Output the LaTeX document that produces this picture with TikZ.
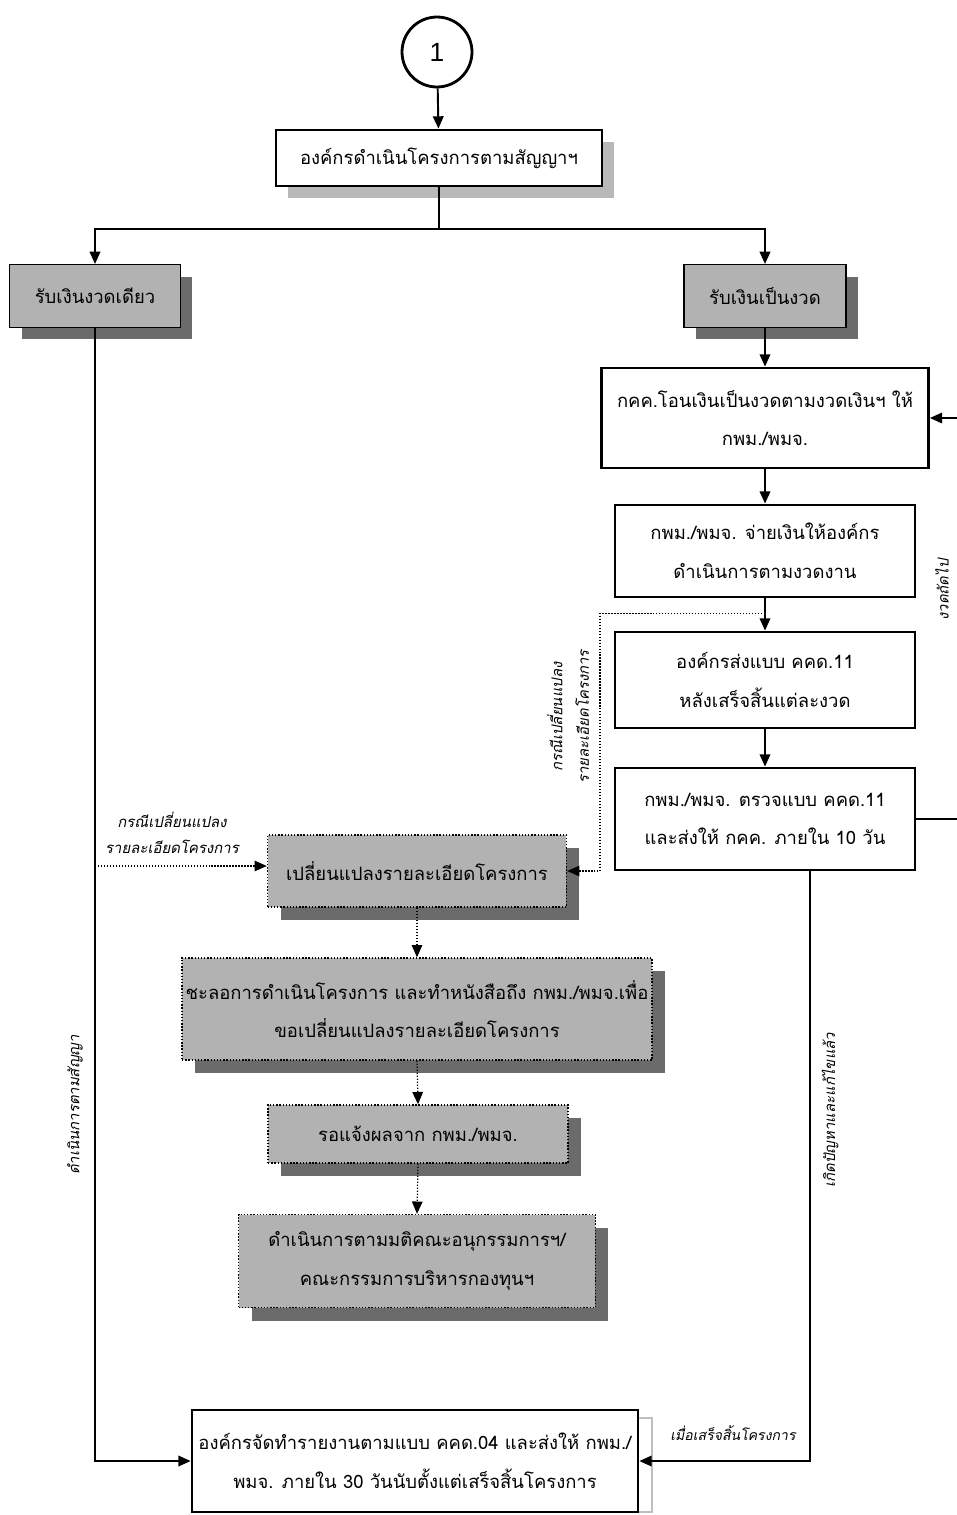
\documentclass[tikz,border=0pt]{standalone}
\usepackage{fontspec}
\setmainfont{Loma}[Script=Thai]
\newfontfamily\slantfont{Loma}[Script=Thai,FakeSlant=0.2]
\newfontfamily\numfont{Liberation Sans}
\usetikzlibrary{arrows.meta,positioning,shadows}

\tikzset{
  boxtext/.style={align=center,inner sep=2pt,font=\fontsize{10.5}{22}\selectfont},
  whitebox/.style={boxtext,draw,line width=1.6pt,fill=white},
  headbox/.style={whitebox,drop shadow={shadow xshift=0.24cm,shadow yshift=-0.24cm,fill=black!28,opacity=1}},
  graybox/.style={boxtext,draw,line width=0.6pt,fill=black!30,
    drop shadow={shadow xshift=0.24cm,shadow yshift=-0.24cm,fill=black!58,opacity=1}},
  dotbox/.style={boxtext,draw,densely dotted,line width=0.8pt,fill=black!30,
    drop shadow={shadow xshift=0.26cm,shadow yshift=-0.26cm,fill=black!58,opacity=1}},
  arr/.style={line width=1.1pt,-{Triangle[length=7pt,width=6pt]}},
  dotarr/.style={densely dotted,line width=0.7pt,-{Triangle[length=7pt,width=6pt]}},
  note/.style={font=\slantfont\fontsize{8.5}{15}\selectfont,align=center,inner sep=1pt}
}

\begin{document}
\begin{tikzpicture}[x=0.02cm,y=-0.02cm]
  \useasboundingbox (0,0) rectangle (957,1515);
  % start
  \node[draw,circle,line width=1.6pt,minimum size=1.4cm,font=\numfont\fontsize{15}{18}\selectfont] (start) at (437,52) {1};
  \node[headbox,minimum width=6.52cm,minimum height=1.12cm] (org) at (439,158) {องค์กรดำเนินโครงการตามสัญญาฯ};
  % two ways of payment
  \node[graybox,minimum width=3.42cm,minimum height=1.26cm] (once) at (95,296) {รับเงินงวดเดียว};
  \node[graybox,minimum width=3.24cm,minimum height=1.26cm] (inst) at (765,296) {รับเงินเป็นงวด};
  % installment column
  \node[whitebox,minimum width=6.54cm,minimum height=2.0cm] (transfer) at (765,418) {กคค.โอนเงินเป็นงวดตามงวดเงินฯ ให้\\กพม./พมจ.};
  \node[whitebox,minimum width=6.0cm,minimum height=1.84cm] (pay) at (765,551) {กพม./พมจ. จ่ายเงินให้องค์กร\\ดำเนินการตามงวดงาน};
  \node[whitebox,minimum width=6.0cm,minimum height=1.92cm] (send) at (765,680) {องค์กรส่งแบบ คคด.11\\หลังเสร็จสิ้นแต่ละงวด};
  \node[whitebox,minimum width=6.0cm,minimum height=2.04cm] (check) at (765,819) {กพม./พมจ. ตรวจแบบ คคด.11\\และส่งให้ กคค. ภายใน 10 วัน};
  % change of project details
  \node[dotbox,minimum width=5.98cm,minimum height=1.44cm] (change) at (417,871) {เปลี่ยนแปลงรายละเอียดโครงการ};
  \node[dotbox,minimum width=8.9cm,minimum height=2.04cm] (delay) at (417,1009) {ชะลอการดำเนินโครงการ และทำหนังสือถึง กพม./พมจ.เพื่อ\\ขอเปลี่ยนแปลงรายละเอียดโครงการ};
  \node[dotbox,minimum width=6.0cm,minimum height=1.16cm] (wait) at (418,1134) {รอแจ้งผลจาก กพม./พมจ.};
  \node[dotbox,minimum width=7.14cm,minimum height=1.86cm] (resol) at (417,1261) {ดำเนินการตามมติคณะอนุกรรมการฯ/\\คณะกรรมการบริหารกองทุนฯ};
  % final report
  \draw[black!25,line width=0.6pt] (200,1418) rectangle (652,1512);
  \node[whitebox,minimum width=8.92cm,minimum height=2.04cm] (report) at (415,1461) {องค์กรจัดทำรายงานตามแบบ คคด.04 และส่งให้ กพม./\\พมจ. ภายใน 30 วันนับตั้งแต่เสร็จสิ้นโครงการ};

  % connectors
  \draw[arr] (start) -- (org);
  \draw[arr] (org.south) -- ++(0,42) -| (once.north);
  \draw[arr] (org.south) -- ++(0,42) -| (inst.north);
  \draw[arr] (inst.south) -- (transfer.north);
  \draw[arr] (transfer) -- (pay);
  \draw[arr] (pay) -- (send);
  \draw[arr] (send) -- (check);
  \draw[arr] (check.east) -- ++(42,0) |- (transfer.east);
  \draw[arr] (once.south) |- (report.west);
  \draw[arr] ([xshift=0.9cm]check.south) |- (report.east);
  \draw[dotarr] (once.south |- 0,866) -- (change.west |- 0,866);
  \draw[dotarr] ([yshift=-0.3cm]pay.south) -- ++(-165,0) |- (change.east);
  \draw[dotarr] (change.south) -- (delay.north);
  \draw[dotarr] (delay.south) -- (wait.north);
  \draw[dotarr] (wait.south) -- (resol.north);

  % notes
  \node[note,rotate=90] (nSign) at (75,1105) {ดำเนินการตามสัญญา};
  \node[note,rotate=90] (nFix) at (830,1110) {เกิดปัญหาและแก้ไขแล้ว};
  \node[note] (nCaseL) at (172,833) {กรณีเปลี่ยนแปลง\\รายละเอียดโครงการ};
  \node[note,rotate=90] (nCaseR) at (568,717) {กรณีเปลี่ยนแปลง\\รายละเอียดโครงการ};
  \node[note,font=\slantfont\fontsize{8}{14}\selectfont] (nEnd) at (733,1433) {เมื่อเสร็จสิ้นโครงการ};
  \node[note,rotate=90] (nNext) at (942,590) {งวดถัดไป};
\end{tikzpicture}
\end{document}
